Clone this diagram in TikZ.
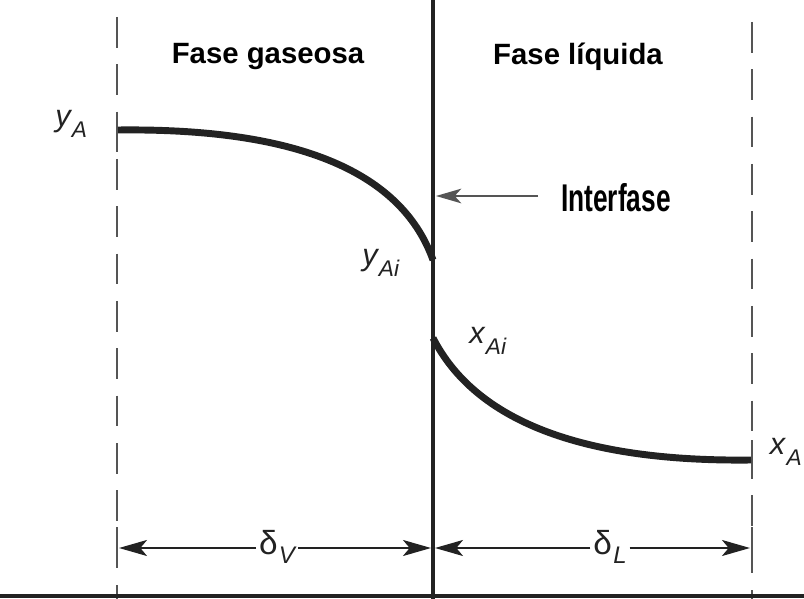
\documentclass[tikz,border=0pt]{standalone}
\usepackage{fontspec}
\setmainfont{Liberation Sans}
\usetikzlibrary{arrows.meta}
\definecolor{ink}{HTML}{222222}
\definecolor{dashgray}{HTML}{555555}
\newcommand{\sublab}[2]{#1\kern1pt\raisebox{-8pt}{\fontsize{17}{17}\selectfont #2}}
\begin{document}
\begin{tikzpicture}[x=0.75pt,y=-0.75pt,
  dashline/.style={draw=dashgray,line width=1.7pt,dash pattern=on 23pt off 12.5pt},
  tickline/.style={draw=dashgray,line width=1.8pt},
  iface/.style={draw=ink,line width=2.4pt},
  profile/.style={draw=ink,line width=5.2pt},
  head/.style={font=\bfseries\fontsize{22}{24}\selectfont,inner sep=0pt},
  lab/.style={font=\itshape\fontsize{23}{24}\selectfont,text=ink,inner sep=0pt},
  dlab/.style={font=\fontsize{25}{26}\selectfont,text=ink,inner sep=2pt},
  dim/.style={draw=ink,line width=1.6pt,-{Stealth[length=21pt,width=12pt,inset=5pt]}},
  thinarrow/.style={draw=dashgray,line width=1.4pt,-{Stealth[length=19pt,width=11pt,inset=5pt]}},
]
\useasboundingbox (0,0) rectangle (804,599);
% guide lines
\coordinate (Ltop) at (117,17);
\coordinate (Lbot) at (117,599);
\coordinate (Rtop) at (752,22);
\coordinate (Rbot) at (752,599);
\coordinate (Itop) at (433,0);
\coordinate (Ibot) at (433,599);
\draw[dashline] (Ltop) -- (Lbot);
\draw[dashline] (Rtop) -- (Rbot);
\draw[iface] (Itop) -- (Ibot);
% bottom base line
\coordinate (B0) at (0,596);
\coordinate (B1) at (804,596);
\draw[draw=ink,line width=3pt] (B0) -- (B1);
% ticks
\coordinate (t1a) at (117,115); \coordinate (t1b) at (117,152);
\coordinate (t2a) at (752,440); \coordinate (t2b) at (752,472);
\coordinate (t3a) at (117,527); \coordinate (t3b) at (117,568);
\coordinate (t4a) at (752,527); \coordinate (t4b) at (752,568);
\draw[tickline] (t1a) -- (t1b);
\draw[tickline] (t2a) -- (t2b);
\draw[tickline] (t3a) -- (t3b);
\draw[tickline] (t4a) -- (t4b);
% profiles
\coordinate (gA) at (118,130);
\coordinate (gI) at (433,260);
\coordinate (lI) at (433,338);
\coordinate (lA) at (751,460);
\draw[profile] (gA) .. controls (290,128) and (400,168) .. (gI);
\draw[profile] (lI) .. controls (475,420) and (580,462) .. (lA);
% headings
\node[head] (hg) at (268,57) {Fase gaseosa};
\node[head] (hl) at (578,57) {Fase líquida};
% interface label
\node[font=\bfseries\fontsize{29}{32}\selectfont,xscale=0.68,inner sep=0pt,anchor=west] (ifl) at (561,198) {Interfase};
\coordinate (iarr) at (538,196);
\coordinate (iend) at (436,196);
\draw[thinarrow] (iarr) -- (iend);
% concentration labels
\node[lab,anchor=west] (yA) at (55,124) {\sublab{y}{A}};
\node[lab,anchor=west] (yAi) at (362,263) {\sublab{y}{Ai}};
\node[lab,anchor=west] (xAi) at (469,341) {\sublab{x}{Ai}};
\node[lab,anchor=east] (xA) at (802,452) {\sublab{x}{A}};
% film thicknesses
\node[dlab] (dV) at (277,547) {δ\kern1pt\raisebox{-7pt}{\fontsize{18}{18}\selectfont\itshape V}};
\node[dlab] (dL) at (610,547) {δ\kern1pt\raisebox{-7pt}{\fontsize{18}{18}\selectfont\itshape L}};
\coordinate (dVl) at (119,548);
\coordinate (dVr) at (431,548);
\coordinate (dLl) at (435,548);
\coordinate (dLr) at (750,548);
\draw[dim] (dV.west |- dVl) -- (dVl);
\draw[dim] (dV.east |- dVr) -- (dVr);
\draw[dim] (dL.west |- dLl) -- (dLl);
\draw[dim] (dL.east |- dLr) -- (dLr);
\end{tikzpicture}
\end{document}
